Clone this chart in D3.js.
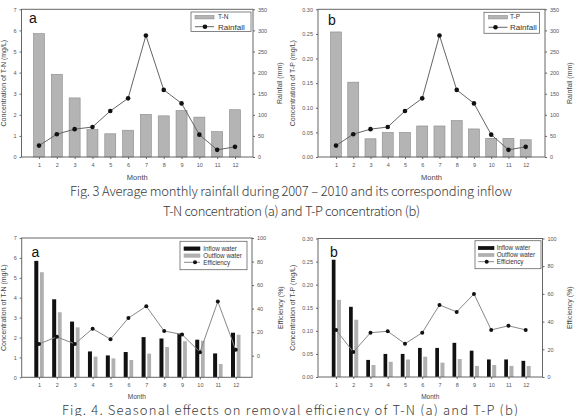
<!DOCTYPE html>
<html><head><meta charset="utf-8">
<script src="https://cdn.jsdelivr.net/npm/d3@7"></script>
<style>
html,body{margin:0;padding:0;background:#fff;}
svg{display:block;}
</style></head>
<body>
<script>
// ---------- DATA ----------
const months = [1,2,3,4,5,6,7,8,9,10,11,12];
const rainfall = [27, 54, 66, 71, 109, 139, 288, 159, 127, 53, 17, 24];
const tnInflow = [5.85, 3.92, 2.80, 1.30, 1.10, 1.27, 2.02, 1.95, 2.20, 1.89, 1.20, 2.24];
const tpInflow = [0.254, 0.152, 0.037, 0.050, 0.050, 0.063, 0.063, 0.074, 0.057, 0.038, 0.038, 0.035];
const tnOutflow = [5.28, 3.27, 2.51, 1.04, 0.95, 0.87, 1.19, 1.52, 1.81, 1.84, 0.67, 2.14];
const tpOutflow = [0.167, 0.124, 0.026, 0.033, 0.038, 0.044, 0.031, 0.039, 0.024, 0.026, 0.024, 0.024];
const tnEfficiency = [10, 16, 10, 23, 14, 32, 42, 21, 18, 3, 46, 5];
const tpEfficiency = [34, 18, 32, 33, 24, 32, 52, 47, 60, 34, 37, 34];
const tnTicks = [0,1,2,3,4,5,6,7];
const tpTicks = [0,0.05,0.10,0.15,0.20,0.25,0.30];
const rainTicks = [0,50,100,150,200,250,300,350];
const effTicks = [0,20,40,60,80,100];
const caption3 = ["Fig. 3 Average monthly rainfall during 2007 \u2013 2010 and its corresponding inflow",
                  "T-N concentration (a) and T-P concentration (b)"];
const caption4 = "Fig. 4. Seasonal effects on removal efficiency of T-N (a) and T-P (b)";

const W = 580, H = 416;
const svg = d3.select("body").append("svg").attr("width", W).attr("height", H);
const SANS = "'Liberation Sans', Arial, sans-serif";
const AX = "#666", TXT = "#555";

function panel(c) {
  const g = svg.append("g");
  const x = d3.scaleLinear().domain([1,12]).range(c.mx);
  const yL = d3.scaleLinear().domain(c.lDom).range([c.y1, c.y0]);
  const yR = d3.scaleLinear().domain(c.rDom).range(c.rRange);

  c.bars.forEach(b => {
    g.append("g").selectAll("rect").data(b.values).join("rect")
      .attr("x", (d,i) => x(months[i]) + b.off)
      .attr("width", b.w)
      .attr("y", d => yL(d))
      .attr("height", d => yL(0) - yL(d))
      .attr("fill", b.fill).attr("stroke", b.stroke).attr("stroke-width", b.sw);
  });
  const line = d3.line().x((d,i) => x(months[i])).y(d => yR(d));
  g.append("path").datum(c.line).attr("d", line)
    .attr("fill", "none").attr("stroke", c.lineColor).attr("stroke-width", 1);
  g.append("g").selectAll("circle").data(c.line).join("circle")
    .attr("cx", (d,i) => x(months[i])).attr("cy", d => yR(d)).attr("r", c.r).attr("fill", "#111");

  g.append("rect").attr("x", c.x0).attr("y", c.y0).attr("width", c.x1 - c.x0).attr("height", c.y1 - c.y0)
    .attr("fill", "none").attr("stroke", AX).attr("stroke-width", 1);

  const ax = (sel) => { sel.select(".domain").remove();
    sel.selectAll("line").attr("stroke", AX);
    sel.selectAll("text").attr("fill", TXT).style("font-family", SANS).style("font-size", "5.5px"); };
  g.append("g").attr("transform", `translate(${c.x0},0)`)
    .call(d3.axisLeft(yL).tickValues(c.lTicks).tickFormat(c.lFmt).tickSize(2).tickPadding(3)).call(ax);
  g.append("g").attr("transform", `translate(${c.x1},0)`)
    .call(d3.axisRight(yR).tickValues(c.rTicks).tickFormat(d3.format("d")).tickSize(2).tickPadding(3)).call(ax);
  g.append("g").attr("transform", `translate(0,${c.y1})`)
    .call(d3.axisBottom(x).tickValues(months).tickFormat(d3.format("d")).tickSize(2).tickPadding(4)).call(ax);

  g.append("text").attr("x", (c.x0 + c.x1)/2).attr("y", c.monthY).attr("text-anchor", "middle")
    .style("font-family", SANS).style("font-size", c.monthSize).attr("fill", "#444").text("Month");
  const vt = (xx, yy, t) => g.append("text").attr("transform", `translate(${xx},${yy}) rotate(-90)`)
    .attr("text-anchor", "middle").style("font-family", SANS).style("font-size", "7px").attr("fill", "#444").text(t);
  vt(c.lTitleX, (c.y0 + c.y1)/2, c.lTitle);
  vt(c.rTitleX, (c.y0 + c.y1)/2, c.rTitle);

  g.append("text").attr("x", c.letterX).attr("y", c.letterY).style("font-family", SANS)
    .style("font-size", "14px").attr("fill", "#111").text(c.letter);

  const L = c.legend;
  g.append("rect").attr("x", L.x).attr("y", L.y).attr("width", L.w).attr("height", L.h)
    .attr("fill", "#fff").attr("stroke", AX).attr("stroke-width", 0.8);
  L.items.forEach(it => {
    if (it.type === "rect") {
      g.append("rect").attr("x", L.sx).attr("y", it.y - 1.7).attr("width", L.sw).attr("height", 3.4)
        .attr("fill", it.fill).attr("stroke", it.stroke).attr("stroke-width", 0.6);
    } else {
      g.append("line").attr("x1", L.sx).attr("x2", L.sx + L.sw).attr("y1", it.y).attr("y2", it.y)
        .attr("stroke", c.lineColor).attr("stroke-width", 1);
      g.append("circle").attr("cx", it.dot).attr("cy", it.y).attr("r", c.r).attr("fill", "#111");
    }
    g.append("text").attr("x", L.tx).attr("y", it.y).attr("dy", "0.35em")
      .style("font-family", SANS).style("font-size", it.fs).attr("fill", "#333").text(it.label);
  });
}

const barFill = "#b4b4b4", barStroke = "#8a8a8a";

panel({x0:21.5, x1:253, y0:9.3, y1:157, mx:[39,235],
  lDom:[0,7], lTicks:tnTicks, lFmt:d3.format("d"), rDom:[0,350], rRange:[157,9.3], rTicks:rainTicks,
  bars:[{values:tnInflow, off:-5.5, w:11, fill:barFill, stroke:barStroke, sw:0.6}],
  line:rainfall, lineColor:"#666", r:2.3,
  monthY:180, monthSize:"7.5px", lTitle:"Concentration of T-N (mg/L)", lTitleX:5.5,
  rTitle:"Rainfall (mm)", rTitleX:281.5, letter:"a", letterX:29, letterY:22.5,
  legend:{x:191, y:12, w:60, h:19.5, sx:195, sw:19, tx:218,
    items:[{type:"rect", y:17.2, fill:barFill, stroke:barStroke, label:"T-N", fs:"6.5px"},
           {type:"line", y:26.7, dot:205, label:"Rainfall", fs:"8px"}]}
});
panel({x0:318, x1:545, y0:9.3, y1:157, mx:[336,525.7],
  lDom:[0,0.30], lTicks:tpTicks, lFmt:d3.format(".2f"), rDom:[0,350], rRange:[157,9.3], rTicks:rainTicks,
  bars:[{values:tpInflow, off:-5.5, w:11, fill:barFill, stroke:barStroke, sw:0.6}],
  line:rainfall, lineColor:"#666", r:2.3,
  monthY:180, monthSize:"7.5px", lTitle:"Concentration of T-P (mg/L)", lTitleX:294.5,
  rTitle:"Rainfall (mm)", rTitleX:571.5, letter:"b", letterX:328, letterY:25,
  legend:{x:484, y:12.3, w:55.5, h:21, sx:488.5, sw:19, tx:510,
    items:[{type:"rect", y:17.2, fill:barFill, stroke:barStroke, label:"T-P", fs:"6.5px"},
           {type:"line", y:27.3, dot:495.5, label:"Rainfall", fs:"8px"}]}
});
panel({x0:21.7, x1:252, y0:238, y1:377.3, mx:[39,235.7],
  lDom:[0,7], lTicks:tnTicks, lFmt:d3.format("d"), rDom:[0,100], rRange:[355.7,238], rTicks:effTicks,
  bars:[{values:tnInflow, off:-4.7, w:4, fill:"#111", stroke:"none", sw:0},
        {values:tnOutflow, off:1, w:3.8, fill:"#b0b0b0", stroke:"none", sw:0}],
  line:tnEfficiency, lineColor:"#888", r:2,
  monthY:398.5, monthSize:"6.5px", lTitle:"Concentration of T-N (mg/L)", lTitleX:5.5,
  rTitle:"Efficiency (%)", rTitleX:282.5, letter:"a", letterX:31.5, letterY:256.5,
  legend:{x:180, y:241.3, w:67, h:28.4, sx:184, sw:16, tx:203.3,
    items:[{type:"rect", y:248.6, fill:"#111", stroke:"#111", label:"Inflow water", fs:"6.3px"},
           {type:"rect", y:255.6, fill:"#b0b0b0", stroke:"#b0b0b0", label:"Outflow water", fs:"6.3px"},
           {type:"line", y:262.3, dot:195, label:"Efficiency", fs:"6.3px"}]}
});
panel({x0:318, x1:542.5, y0:238.5, y1:377, mx:[336,525.7],
  lDom:[0,0.30], lTicks:tpTicks, lFmt:d3.format(".2f"), rDom:[0,100], rRange:[377,238.5], rTicks:effTicks,
  bars:[{values:tpInflow, off:-4.2, w:3.7, fill:"#111", stroke:"none", sw:0},
        {values:tpOutflow, off:1, w:4, fill:"#b0b0b0", stroke:"none", sw:0}],
  line:tpEfficiency, lineColor:"#888", r:2,
  monthY:398.5, monthSize:"6.5px", lTitle:"Concentration of T-P (mg/L)", lTitleX:294.5,
  rTitle:"Efficiency (%)", rTitleX:572, letter:"b", letterX:330, letterY:256.5,
  legend:{x:475, y:240.7, w:66, h:28, sx:478.3, sw:15.7, tx:496.7,
    items:[{type:"rect", y:248, fill:"#111", stroke:"#111", label:"Inflow water", fs:"6.3px"},
           {type:"rect", y:255, fill:"#b0b0b0", stroke:"#b0b0b0", label:"Outflow water", fs:"6.3px"},
           {type:"line", y:261.7, dot:486.7, label:"Efficiency", fs:"6.3px"}]}
});

// captions
const CAP = "'Noto Sans CJK KR', 'Noto Sans', sans-serif";
const cap = (t, xx, yy, len) => svg.append("text").attr("x", xx).attr("y", yy)
  .attr("textLength", len).attr("lengthAdjust", "spacing")
  .style("font-family", CAP).style("font-size", "13px").style("font-weight", 300)
  .attr("fill", "#3a3a3a").text(t);
cap(caption3[0], 70, 196, 442);
cap(caption3[1], 163, 216, 257);
cap(caption4, 62, 415, 456);
</script>
</body></html>
